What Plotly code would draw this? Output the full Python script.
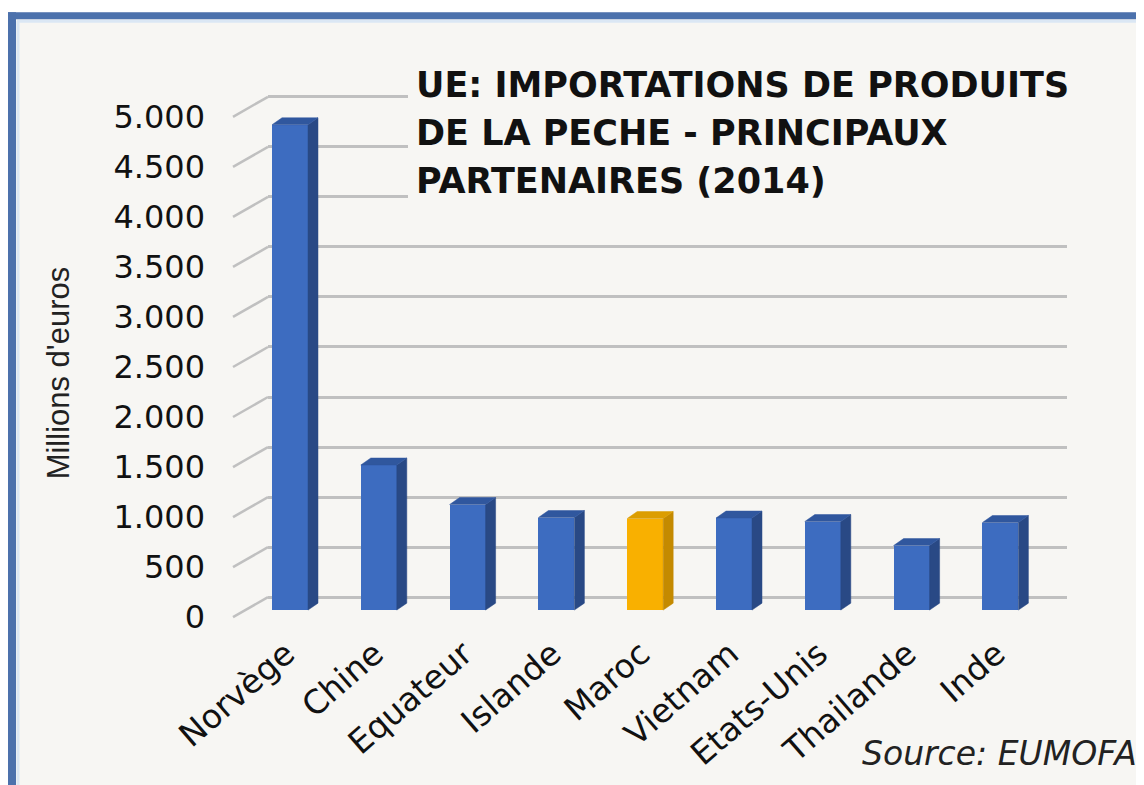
import plotly.graph_objects as go

# ---------------- data ----------------
categories = ["Norvège", "Chine", "Equateur", "Islande", "Maroc",
              "Vietnam", "Etats-Unis", "Thailande", "Inde"]
values = [4850, 1450, 1055, 925, 915, 920, 885, 645, 875]
highlight = "Maroc"
y_ticks = [0, 500, 1000, 1500, 2000, 2500, 3000, 3500, 4000, 4500, 5000]
title_lines = ["UE: IMPORTATIONS DE PRODUITS",
               "DE LA PECHE - PRINCIPAUX",
               "PARTENAIRES (2014)"]
y_title = "Millions d'euros"
source = "Source: EUMOFA"

# ---------------- layout geometry (window pixels) ----------------
OFF = 8                                        # default page body margin
W, H = 1144 - OFF, 785 - OFF
PL, PR, PT, PB = 268, 1067, 60, 630            # plot area, window pixels
s = 50.3 / 500.0                               # px per unit
cat_px = 88.8                                  # px per category

def px(xp):
    return (xp - PL) / (PR - PL)

def py(yp):
    return (PB - yp) / (PB - PT)

grid_range = [-(PB - 600) / s, (600 - PT) / s]   # back wall, zero at 600px
bar_range = [-(PB - 613) / s, (613 - PT) / s]    # bar fronts, zero at 613px
x0 = -(290 - PL) / cat_px
x_range = [x0, x0 + (PR - PL) / cat_px]

bw = 36 / cat_px          # bar width (category units)
ddx = 10 / cat_px         # 3D depth in x
ddy = 7 / s               # 3D depth in y (value units)

BLUE = dict(front="#3d6cc0", side="#294985", top="#30579e")
ORANGE = dict(front="#f9b000", side="#c48a00", top="#dc9d00")

fig = go.Figure()

xs = list(range(len(categories)))
front_colors = [ORANGE["front"] if c == highlight else BLUE["front"] for c in categories]
fig.add_trace(go.Bar(x=xs, y=values, width=bw, yaxis="y2",
                     marker=dict(color=front_colors, line=dict(width=0)),
                     hoverinfo="skip"))

for pal, sel in ((BLUE, False), (ORANGE, True)):
    sx, sy, tx, ty = [], [], [], []
    for i, (c, v) in enumerate(zip(categories, values)):
        if (c == highlight) != sel:
            continue
        xl, xr = i - bw / 2, i + bw / 2
        sx += [xr, xr + ddx, xr + ddx, xr, xr, None]
        sy += [0, ddy, v + ddy, v, 0, None]
        tx += [xl, xl + ddx, xr + ddx, xr, xl, None]
        ty += [v, v + ddy, v + ddy, v, v, None]
    fig.add_trace(go.Scatter(x=sx, y=sy, yaxis="y2", mode="lines", fill="toself",
                             fillcolor=pal["side"], line=dict(width=0.5, color=pal["side"]),
                             hoverinfo="skip"))
    fig.add_trace(go.Scatter(x=tx, y=ty, yaxis="y2", mode="lines", fill="toself",
                             fillcolor=pal["top"], line=dict(width=0.5, color=pal["top"]),
                             hoverinfo="skip"))

BG = "#f7f6f3"
FR = "#4c71ac"
shapes = [
    dict(type="rect", xref="paper", yref="paper", layer="below",
         x0=px(8), x1=px(1140), y0=py(12), y1=py(800),
         fillcolor=BG, line=dict(width=0)),
    dict(type="line", xref="paper", yref="paper", layer="below",
         x0=px(17), x1=px(1140), y0=py(21), y1=py(21),
         line=dict(color="#dbe7f4", width=3)),
    dict(type="line", xref="paper", yref="paper", layer="below",
         x0=px(18), x1=px(18), y0=py(21), y1=py(800),
         line=dict(color="#dbe7f4", width=3)),
    dict(type="line", xref="paper", yref="paper", layer="below",
         x0=px(1138), x1=px(1138), y0=py(18), y1=py(800),
         line=dict(color="#e2e2e2", width=2)),
    dict(type="line", xref="paper", yref="paper", layer="below",
         x0=px(0), x1=px(1140), y0=py(15.5), y1=py(15.5),
         line=dict(color=FR, width=7)),
    dict(type="line", xref="paper", yref="paper", layer="below",
         x0=px(12), x1=px(12), y0=py(12), y1=py(800),
         line=dict(color=FR, width=8)),
    # title mask over the gridlines
    dict(type="rect", xref="paper", yref="paper", layer="above",
         x0=px(408), x1=px(1090), y0=py(214), y1=py(62),
         fillcolor=BG, line=dict(width=0)),
]
for v in y_ticks:
    shapes.append(dict(type="line", xref="paper", yref="y",
                       xsizemode="pixel", xanchor=0, x0=-35, x1=0,
                       ysizemode="pixel", yanchor=v, y0=-20, y1=0,
                       line=dict(color="#c0c0c0", width=2.5)))

annotations = []
for line, yc in zip(title_lines, (85.5, 133.5, 181.5)):
    annotations.append(dict(text="<b>" + line + "</b>", xref="paper", yref="paper",
                            x=px(414), y=py(yc), xanchor="left", yanchor="middle",
                            showarrow=False,
                            font=dict(family="DejaVu Sans", size=35, color="#111111")))
annotations.append(dict(text=y_title, xref="paper", yref="paper",
                        x=px(58), y=py(375), xanchor="center", yanchor="middle",
                        textangle=-90, showarrow=False,
                        font=dict(family="Liberation Sans", size=31, color="#222222")))
annotations.append(dict(text="<i>" + source + "</i>", xref="paper", yref="paper",
                        x=px(1139), y=py(757), xanchor="right", yanchor="middle",
                        showarrow=False,
                        font=dict(family="DejaVu Sans", size=33, color="#222222")))

fig.update_layout(
    width=W, height=H,
    margin=dict(l=PL - OFF, r=1144 - PR, t=PT - OFF, b=785 - PB, pad=0),
    paper_bgcolor="white", plot_bgcolor="rgba(0,0,0,0)",
    separators=",.", showlegend=False, bargap=0,
    xaxis=dict(range=x_range, tickvals=xs, ticktext=categories, tickangle=-41,
               tickfont=dict(family="DejaVu Sans", size=33, color="#111111"),
               showgrid=False, zeroline=False, showline=False, ticks="",
               ticklabelshift=-4),
    yaxis=dict(range=grid_range, tickvals=y_ticks, tickformat=",",
               showgrid=True, gridcolor="#c0c0c0", gridwidth=2.5,
               zeroline=False, showline=False, ticks="",
               tickfont=dict(family="DejaVu Sans", size=32, color="#111111"),
               ticklabelshift=20, ticklabelstandoff=62),
    yaxis2=dict(range=bar_range, overlaying="y", visible=False),
    shapes=shapes, annotations=annotations,
)

fig.write_html("out.html")
